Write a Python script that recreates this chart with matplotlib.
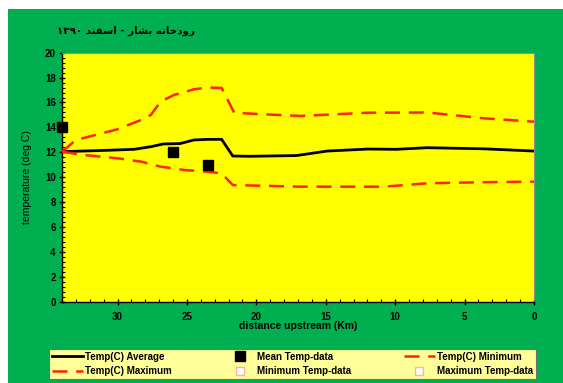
import matplotlib
matplotlib.use("Agg")
import matplotlib.pyplot as plt
from matplotlib.patches import Rectangle
from matplotlib.ticker import MultipleLocator

plt.rcParams['font.family'] = ['Liberation Sans', 'DejaVu Sans']

# Model profiles along the river (distance upstream in km)
avg_km = [34, 31, 28.8, 27.6, 26.7, 25.5, 24.5, 23.5, 22.5, 21.7, 20.4, 17.1, 14.9, 12.0, 9.9, 7.7, 3.6, 0]
avg_temp = [12.05, 12.15, 12.24, 12.45, 12.67, 12.7, 12.99, 13.04, 13.04, 11.7, 11.68, 11.74, 12.1, 12.26, 12.24, 12.37, 12.28, 12.1]

max_km = [34, 33, 30, 28.3, 27.6, 26.9, 25.95, 24.5, 23.5, 22.5, 21.6, 20.0, 16.8, 12.0, 7.7, 3.6, 0]
max_temp = [12.05, 12.99, 13.85, 14.6, 15.0, 16.06, 16.6, 17.06, 17.2, 17.17, 15.18, 15.08, 14.92, 15.18, 15.2, 14.73, 14.46]

min_km = [34, 32.4, 30, 28.3, 26.9, 25.2, 23.5, 22.5, 21.7, 16.8, 10.8, 7.7, 3.6, 0]
min_temp = [12.05, 11.78, 11.52, 11.25, 10.85, 10.58, 10.44, 10.31, 9.37, 9.24, 9.24, 9.51, 9.6, 9.64]

# Observed mean temperatures
obs_km = [34, 26, 23.5]
obs_temp = [14, 12, 11]

x_ticks = [30, 25, 20, 15, 10, 5, 0]
y_ticks = [0, 2, 4, 6, 8, 10, 12, 14, 16, 18, 20]

# "رودخانه بشار - اسفند ۱۳۹۰" in visual order with Arabic presentation forms
title_text = ("\u06F1\u06F3\u06F9\u06F0 "
              "\uFEAA\uFEE8\uFED4\uFEB3\uFE8D"
              " - "
              "\uFEAD\uFE8E\uFEB8\uFE91"
              " "
              "\uFEEA\uFEE7\uFE8E\uFEA7\uFEA9\uFEED\uFEAD")

W, H = 563, 383
fig = plt.figure(figsize=(W / 100, H / 100), dpi=100, facecolor='white')

green = '#00B050'
fig.patches.append(Rectangle((8 / W, 0), 1 - 8 / W, 1 - 9 / H, transform=fig.transFigure,
                             facecolor=green, edgecolor='none', zorder=-10))

ax = fig.add_axes([62 / W, 1 - 301.7 / H, (534 - 62) / W, (301.7 - 52.7) / H])
ax.set_zorder(5)
ax.set_facecolor('#FFFF00')

red = '#FF2200'
dash = (6, 3.5)
l_avg, = ax.plot(avg_km, avg_temp, color='black', lw=2, label='Temp(C) Average', zorder=3)
l_max, = ax.plot(max_km, max_temp, color=red, lw=1.8, dashes=dash, label='Temp(C) Maximum', zorder=3)
l_min, = ax.plot(min_km, min_temp, color=red, lw=1.8, dashes=dash, label='Temp(C) Minimum', zorder=3)
l_obs, = ax.plot(obs_km, obs_temp, linestyle='none', marker='s', markersize=7.5,
                 color='black', label='Mean Temp-data', clip_on=False, zorder=4)
l_mind, = ax.plot([], [], linestyle='none', marker='s', markersize=6, markerfacecolor='white',
                  markeredgecolor='#FFB0A0', label='Minimum Temp-data')
l_maxd, = ax.plot([], [], linestyle='none', marker='s', markersize=6, markerfacecolor='white',
                  markeredgecolor='#FFB0A0', label='Maximum Temp-data')

ax.set_xlim(34, 0)
ax.set_ylim(0, 20)
ax.set_xticks(x_ticks)
ax.set_yticks(y_ticks)
ax.xaxis.set_minor_locator(MultipleLocator(1))
ax.yaxis.set_minor_locator(MultipleLocator(0.4))
ax.tick_params(which='major', direction='inout', length=5, width=1, labelsize=7, pad=2)
ax.tick_params(which='minor', direction='in', length=2.5, width=0.8)
for lab in ax.get_xticklabels() + ax.get_yticklabels():
    lab.set_fontweight('bold')
ax.tick_params(axis='x', pad=5)

for side in ['top', 'right']:
    ax.spines[side].set_color('#909090')
for side in ['left', 'bottom']:
    ax.spines[side].set_color('black')
    ax.spines[side].set_linewidth(1)

ax.set_xlabel('distance upstream (Km)', fontsize=7.5, fontweight='bold', labelpad=-1)
ax.set_ylabel('temperature (deg C)', fontsize=7.5, labelpad=9)

fig.text(57 / W, 1 - 31 / H, title_text, fontsize=7.4, fontweight='bold',
         family=['DejaVu Sans'], ha='left', va='center')

handles = [l_avg, l_max, l_obs, l_mind, l_min, l_maxd]
leg = fig.legend(handles=handles, labels=[h.get_label() for h in handles],
                 ncol=3, loc='center', mode='expand',
                 bbox_to_anchor=(49 / W, 1 - 380 / H, (536 - 49) / W, 32 / H),
                 bbox_transform=fig.transFigure,
                 fontsize=7, frameon=True, fancybox=False, facecolor='#FFFF99',
                 edgecolor='#707070', framealpha=1, handlelength=3.2, handletextpad=0.2,
                 borderaxespad=0, borderpad=0.3, labelspacing=0.5, columnspacing=1.0)
leg.get_frame().set_linewidth(0.8)
leg.set_zorder(6)
for t in leg.get_texts():
    t.set_fontweight('bold')

fig.savefig('out.png', dpi=100, facecolor='white')
